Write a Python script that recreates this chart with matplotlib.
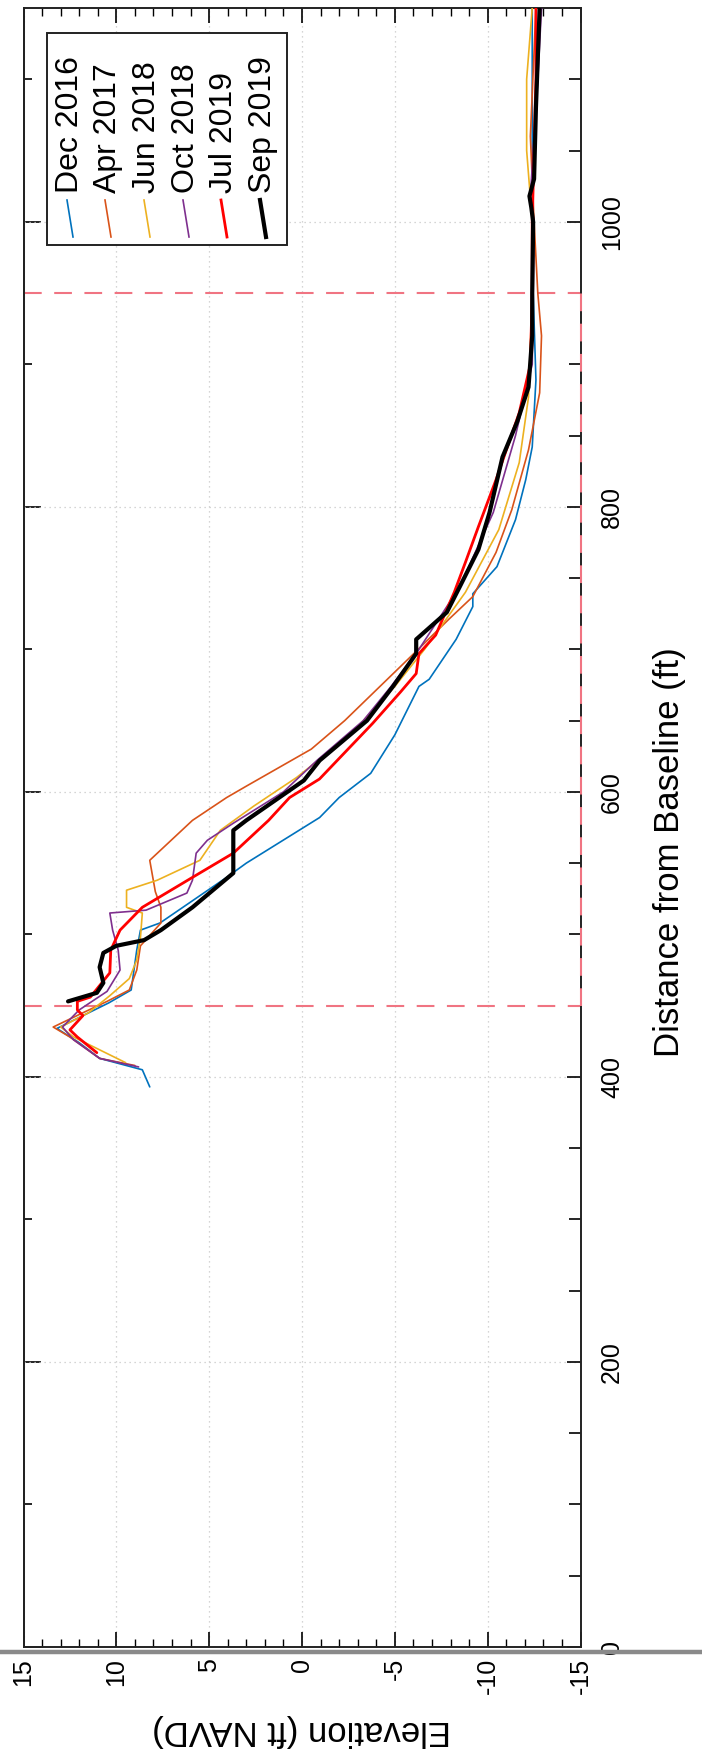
import matplotlib
matplotlib.use("Agg")
import matplotlib.pyplot as plt
from matplotlib.ticker import MultipleLocator
from matplotlib.lines import Line2D
from matplotlib.patches import Rectangle

plt.rcParams['font.family'] = ['Liberation Sans', 'DejaVu Sans']

# ---------------- data (distance ft, elevation ft NAVD) ----------------
dec16_d = [393, 405, 413, 424, 434, 443, 452, 461, 489, 503, 508, 540, 550, 582, 596, 613, 640,
           674, 679, 707, 730, 739, 758, 791, 819, 842, 889, 950, 1000, 1100, 1150]
dec16_e = [8.2, 8.6, 10.9, 12.0, 13.2, 11.8, 10.4, 9.2, 8.9, 8.7, 7.65, 4.06, 3.0, -0.95, -2.0, -3.7, -5.0,
           -6.3, -6.85, -8.3, -9.2, -9.2, -10.5, -11.5, -12.05, -12.4, -12.6, -12.45, -12.4, -12.4, -12.4]

apr17_d = [408, 413, 428, 435, 445, 453, 461, 475, 492, 508, 519, 530, 552, 580, 596, 604, 630, 650,
           674, 698, 721, 737, 768, 798, 840, 880, 920, 950, 1000, 1060, 1150]
apr17_e = [9.0, 10.9, 12.5, 13.4, 11.8, 10.5, 9.3, 8.9, 8.7, 7.6, 7.6, 7.9, 8.2, 5.9, 4.06, 3.0, -0.5, -2.3,
           -4.2, -6.1, -7.9, -9.2, -10.45, -11.3, -12.2, -12.8, -12.9, -12.7, -12.5, -12.3, -12.6]

jun18_d = [410, 428, 435, 445, 457, 469, 482, 498, 515, 519, 531, 538, 552, 573, 590, 610, 640, 674,
           700, 740, 784, 831, 877, 950, 1000, 1050, 1100, 1150]
jun18_e = [9.5, 12.3, 13.0, 11.5, 10.35, 9.3, 8.9, 8.7, 8.6, 9.45, 9.45, 7.8, 5.5, 4.4, 2.6, 0.3, -2.6, -5.0,
           -6.6, -8.8, -10.6, -11.7, -12.2, -12.4, -12.4, -12.1, -12.1, -12.4]

oct18_d = [407, 413, 426, 435, 447, 460, 475, 489, 503, 515, 517, 529, 538, 557, 566, 578, 600, 622,
           650, 674, 700, 744, 796, 850, 900, 1000, 1018, 1100, 1150]
oct18_e = [8.8, 10.9, 12.3, 12.9, 12.0, 10.5, 9.8, 9.9, 10.2, 10.35, 8.4, 6.2, 5.9, 5.7, 5.1, 3.7, 1.0, -0.8,
           -3.3, -4.8, -6.3, -8.5, -10.3, -11.5, -12.4, -12.5, -12.3, -12.7, -12.9]

jul19_d = [417, 428, 433, 443, 447, 453, 456, 473, 489, 503, 519, 540, 557, 580, 596, 609, 648, 670,
           683, 697, 710, 740, 761, 786, 819, 866, 900, 950, 1000, 1050, 1100, 1150]
jul19_e = [11.05, 12.1, 12.5, 11.8, 12.1, 12.1, 11.4, 10.35, 10.3, 9.8, 8.6, 5.9, 3.7, 1.8, 0.67, -0.94, -3.8, -5.3,
           -6.15, -6.3, -7.2, -8.2, -8.8, -9.5, -10.45, -11.7, -12.3, -12.4, -12.4, -12.5, -12.6, -12.6]

sep19_d = [453, 459, 466, 477, 487, 492, 496, 503, 519, 543, 573, 580, 608, 622, 650, 674, 697, 707,
           726, 744, 770, 796, 835, 860, 884, 920, 950, 1000, 1010, 1018, 1030, 1080, 1150]
sep19_e = [12.6, 11.05, 10.7, 10.9, 10.7, 10.0, 8.5, 7.6, 5.9, 3.7, 3.7, 3.0, -0.1, -0.95, -3.5, -4.9, -6.15, -6.15,
           -7.8, -8.5, -9.5, -10.1, -10.8, -11.6, -12.2, -12.4, -12.4, -12.45, -12.35, -12.25, -12.5, -12.6, -12.8]

labels = ['Dec 2016', 'Apr 2017', 'Jun 2018', 'Oct 2018', 'Jul 2019', 'Sep 2019']
colors = ['#0072BD', '#D95319', '#EDB120', '#7E2F8E', '#FF0000', '#000000']
widths = [1.2, 1.2, 1.2, 1.2, 2.0, 3.0]

dashed_d = [450, 950]          # vertical reference lines (distance)
box_elev = -15                 # bottom reference

elev_ticks = [15, 10, 5, 0, -5, -10, -15]
dist_ticks = [0, 200, 400, 600, 800, 1000]

series = [(dec16_d, dec16_e), (apr17_d, apr17_e), (jun18_d, jun18_e),
          (oct18_d, oct18_e), (jul19_d, jul19_e), (sep19_d, sep19_e)]

# ---------------- figure ----------------
W, H = 702, 1764
fig = plt.figure(figsize=(W / 100, H / 100), dpi=100)
x0, x1, ytop, ybot = 23.5, 580.5, 8, 1647
ax = fig.add_axes([x0 / W, 1 - ybot / H, (x1 - x0) / W, (ybot - ytop) / H])

ax.set_xlim(15, -15)
ax.set_ylim(0, 1150)

dash_col = '#F07482'
for d in dashed_d:
    ax.axhline(d, color=dash_col, lw=1.5, ls=(0, (8.5, 6)), zorder=2)
ax.plot([box_elev, box_elev], dashed_d, color=dash_col, lw=1.5, ls=(0, (8.5, 6)),
        clip_on=False, zorder=4)

for (d, e), c, w in zip(series, colors, widths):
    ax.plot(e, d, color=c, lw=w, solid_joinstyle='round', solid_capstyle='round', zorder=3)

# ticks
ax.set_xticks(elev_ticks)
ax.set_xticklabels([str(v) for v in elev_ticks])
ax.xaxis.set_minor_locator(MultipleLocator(1))
ax.tick_params(axis='x', which='both', direction='in', top=True, bottom=True,
               labelrotation=90, labelsize=18, pad=8)
ax.tick_params(axis='x', which='major', length=11, width=1.2)
ax.tick_params(axis='x', which='minor', length=6, width=1.0)

ax.yaxis.tick_right()
ax.set_yticks(dist_ticks)
ax.set_yticklabels([str(v) for v in dist_ticks])
ax.yaxis.set_minor_locator(MultipleLocator(50))
ax.tick_params(axis='y', which='both', direction='in', right=True, left=False,
               labelrotation=90, labelsize=18, pad=14)
ax.tick_params(axis='y', which='major', length=10, width=1.2)
ax.tick_params(axis='y', which='minor', length=9, width=1.2)
for t in ax.get_yticklabels():
    t.set_verticalalignment('center')

sec = ax.secondary_yaxis('left')
sec.set_yticks(dist_ticks)
sec.yaxis.set_minor_locator(MultipleLocator(100))
sec.tick_params(which='both', direction='in', labelleft=False, width=1.2)
sec.tick_params(which='major', length=12)
sec.tick_params(which='minor', length=6)
sec.spines['left'].set_linewidth(1.4)

for s in ax.spines.values():
    s.set_linewidth(1.4)
    s.set_color('#222222')

ax.grid(which='major', ls=(0, (1, 3)), color='#c8c8c8', lw=0.9, zorder=0)

# axis labels (rotated layout)
fig.text(670 / W, 1 - 852 / H, 'Distance from Baseline (ft)', rotation=90,
         ha='center', va='center', fontsize=25)
fig.text(302 / W, 1 - 1731 / H, 'Elevation (ft NAVD)', rotation=180,
         ha='center', va='center', fontsize=25)

# grey page edge across the figure
fig.add_artist(Line2D([0, 1], [1 - 1652 / H, 1 - 1652 / H], transform=fig.transFigure,
                      color='#8a8a8a', lw=3.2, zorder=10))

# ---------------- legend (rotated) ----------------
def fx(px):
    return (px - x0) / (x1 - x0)

def fy(py):
    return (ybot - py) / (ybot - ytop)

ax.add_patch(Rectangle((fx(47), fy(245)), fx(287) - fx(47), fy(33) - fy(245),
                       transform=ax.transAxes, facecolor='white', edgecolor='#222222',
                       lw=1.4, zorder=5))
entry_x = [70, 108, 147, 186, 224, 263]
for xe, lab, c, w in zip(entry_x, labels, colors, widths):
    ax.add_line(Line2D([fx(xe - 3), fx(xe + 3)], [fy(200), fy(237)], transform=ax.transAxes,
                       color=c, lw=w, zorder=6))
    ax.text(fx(xe), fy(193), lab, transform=ax.transAxes, rotation=90,
            ha='center', va='bottom', fontsize=23, zorder=6,
            family=['Liberation Sans Narrow', 'Liberation Sans', 'DejaVu Sans'])

fig.savefig('out.png', dpi=100)
